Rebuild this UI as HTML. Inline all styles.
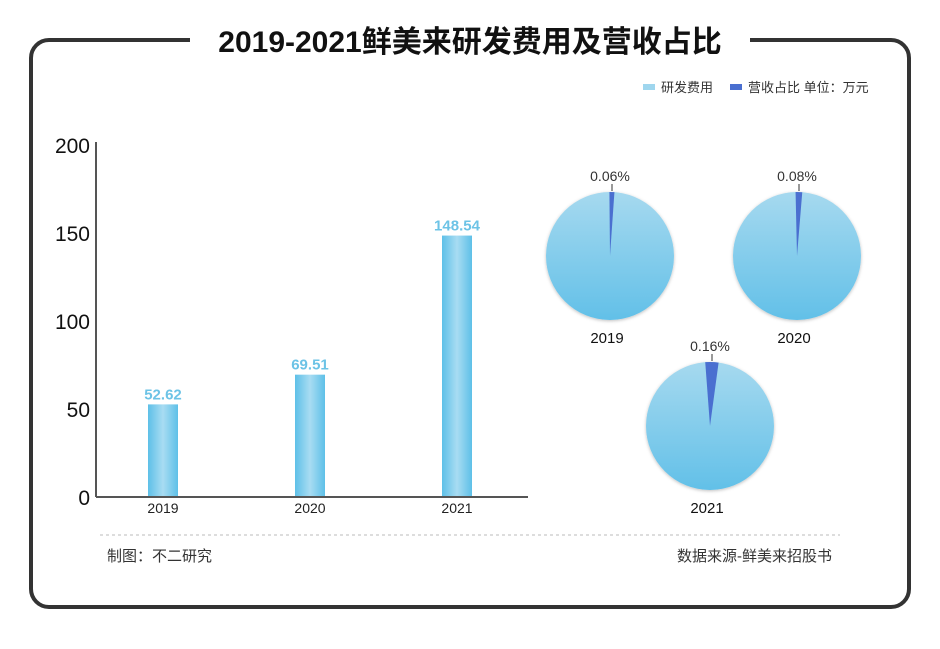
<!DOCTYPE html>
<html><head><meta charset="utf-8">
<style>
body{margin:0;background:#fff;width:940px;height:644px;overflow:hidden;font-family:"Liberation Sans","Noto Sans CJK SC",sans-serif;}
</style></head>
<body>
<svg width="940" height="644" viewBox="0 0 940 644">
<defs>
<linearGradient id="bg" x1="0" x2="1" y1="0" y2="0">
<stop offset="0" stop-color="#5ec0e8"/><stop offset="0.5" stop-color="#a8dcf2"/><stop offset="1" stop-color="#5ec0e8"/>
</linearGradient>
<linearGradient id="pg" x1="0" x2="0" y1="0" y2="1">
<stop offset="0" stop-color="#a6d9ef"/><stop offset="1" stop-color="#62c0e8"/>
</linearGradient>
<filter id="sh" x="-20%" y="-20%" width="140%" height="140%"><feDropShadow dx="0" dy="1" stdDeviation="1.5" flood-color="#000" flood-opacity="0.25"/></filter>
</defs>
<rect x="31" y="40" width="878" height="567" rx="18" fill="none" stroke="#333" stroke-width="4"/>
<rect x="190" y="20" width="560" height="40" fill="#fff"/>
<text x="470" y="52" text-anchor="middle" font-size="30" font-weight="bold" fill="#111">2019-2021鲜美来研发费用及营收占比</text>
<g>
<rect x="643" y="84" width="12" height="6" fill="#9fd6ee"/>
<text x="661" y="92" font-size="13" fill="#333">研发费用</text>
<rect x="730" y="84" width="12" height="6" fill="#4a6fd0"/>
<text x="748" y="92" font-size="13" fill="#333">营收占比  单位：万元</text>
</g>
<g id="bars"></g>
<g id="pies"></g>
<line x1="100" y1="535" x2="840" y2="535" stroke="#bbb" stroke-dasharray="3,3"/>
<text x="107" y="561" font-size="15" fill="#333">制图：不二研究</text>
<text x="832" y="561" font-size="15" fill="#333" text-anchor="end">数据来源-鲜美来招股书</text>
</svg>
<script>
const categories=["2019","2020","2021"];
const rdValues=[52.62,69.51,148.54];
const yTicks=[0,50,100,150,200];
const pieLabels=["2019","2020","2021"];
const pctValues=[0.06,0.08,0.16];
const NS="http://www.w3.org/2000/svg";
function mk(t,a,p){const e=document.createElementNS(NS,t);for(const k in a)e.setAttribute(k,a[k]);p.appendChild(e);return e;}
const X0=96,X1=528,Y0=497,Y1=145;
const y=v=>Y0-(v/200)*(Y0-Y1);
const x=i=>163+i*147;
const bars=document.getElementById('bars');
const ya=mk('line',{x1:X0,y1:Y1-3,x2:X0,y2:Y0,stroke:'#555','stroke-width':2},bars);


yTicks.forEach(t=>{const e=mk('text',{x:X0-6,y:y(t)+8,'text-anchor':'end','font-size':21,fill:'#111'},bars);e.textContent=t;

});
rdValues.forEach((v,i)=>{
const r=mk('rect',{x:x(i)-15,y:y(v),width:30,height:Y0-y(v),fill:'url(#bg)'},bars);


const l=mk('text',{x:x(i),y:y(v)-5,'text-anchor':'middle','font-size':15,'font-weight':'bold',fill:'#6cc3e6'},bars);l.textContent=v.toFixed(2);


const c=mk('text',{x:x(i),y:Y0+16,'text-anchor':'middle','font-size':14,fill:'#222'},bars);c.textContent=categories[i];


});
const xa=mk('line',{x1:X0,y1:Y0,x2:X1,y2:Y0,stroke:'#555','stroke-width':2},bars);


const pies=document.getElementById('pies');
const centers=[[610,256],[797,256],[710,426]];const R=64;
pctValues.forEach((p,i)=>{
const [cx,cy]=centers[i];
const c=mk('circle',{cx:cx,cy:cy,r:R,fill:'url(#pg)',filter:'url(#sh)'},pies);


const ang=p*75*Math.PI/180;
const xA=cx+R*Math.sin(-ang/2+0.03), yA=cy-R*Math.cos(-ang/2+0.03);
const xB=cx+R*Math.sin(ang/2+0.03), yB=cy-R*Math.cos(ang/2+0.03);
const w=mk('path',{d:`M${cx},${cy} L${xA},${yA} A${R},${R} 0 0 1 ${xB},${yB} Z`,fill:'#4a6fd0'},pies);


mk('line',{x1:cx+2,y1:cy-R-1,x2:cx+2,y2:cy-R-8,stroke:'#333'},pies);
const t=mk('text',{x:cx,y:cy-R-11,'text-anchor':'middle','font-size':14,fill:'#333'},pies);t.textContent=p.toFixed(2)+'%';


const l=mk('text',{x:cx-3,y:cy+R+23,'text-anchor':'middle','font-size':15,fill:'#111'},pies);l.textContent=pieLabels[i];


});
</script>
</body></html>
